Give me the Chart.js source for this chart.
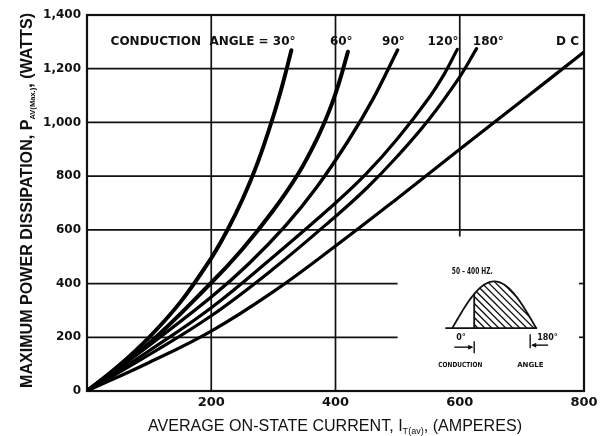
<!DOCTYPE html>
<html><head><meta charset="utf-8">
<script src="https://cdn.jsdelivr.net/npm/chart.js@4.4.1/dist/chart.umd.min.js"></script>
<style>html,body{margin:0;padding:0;background:#fff}</style>
</head><body>
<canvas id="c" width="605" height="436"></canvas>
<script>
// ---- data ----
const xTickValues = [0, 200, 400, 600, 800];
const yTickValues = [0, 200, 400, 600, 800, 1000, 1200, 1400];
const seriesLabels = ['30°', '60°', '90°', '120°', '180°', 'DC'];

const current30 = [0, 50, 100, 150, 200, 225, 250, 275, 300, 315, 329];
const power30   = [0, 92, 200, 330, 495, 595, 712, 852, 1024, 1143, 1269];

const current60 = [0, 100, 200, 250, 300, 340, 370, 390, 405, 420];
const power60   = [0, 178, 403, 528, 673, 809, 938, 1044, 1143, 1263];

const current90 = [0, 100, 200, 260, 320, 370, 420, 460, 500];
const power90   = [0, 170, 350, 473, 617, 760, 930, 1086, 1270];

const current120 = [0, 100, 200, 300, 400, 450, 500, 550, 575, 596];
const power120   = [0, 150, 310, 500, 700, 810, 940, 1090, 1180, 1272];

const current180 = [0, 100, 200, 300, 400, 450, 500, 550, 600, 627];
const power180   = [0, 135, 280, 455, 650, 755, 875, 1010, 1170, 1275];

const currentDC = [0, 100, 200, 300, 400, 500, 600, 700, 800];
const powerDC   = [0, 106, 223, 370, 540, 718, 900, 1081, 1262];

const seriesX = [current30, current60, current90, current120, current180, currentDC];
const seriesY = [power30, power60, power90, power120, power180, powerDC];
const seriesWidth = [4, 4, 3.4, 3.2, 3.2, 3.2];

const pts = (xs, ys) => xs.map((v, i) => ({ x: v, y: ys[i] }));

const datasets = seriesLabels.map((lab, i) => ({
  label: lab,
  data: pts(seriesX[i], seriesY[i]),
  borderColor: '#000',
  borderWidth: seriesWidth[i],
  borderCapStyle: 'round',
  pointRadius: 0,
  tension: 0.4,
  fill: false
}));

const INK = '#111';

const gridPlugin = {
  id: 'paperGrid',
  beforeDatasetsDraw(chart) {
    const { ctx, chartArea: a, scales: { x, y } } = chart;
    ctx.save();
    ctx.strokeStyle = INK;
    ctx.lineWidth = 1.7;
    const hl = (v, x0, x1) => {
      const py = y.getPixelForValue(v);
      ctx.beginPath(); ctx.moveTo(x.getPixelForValue(x0), py); ctx.lineTo(x.getPixelForValue(x1), py); ctx.stroke();
    };
    const vl = (v, y0, y1) => {
      const px = x.getPixelForValue(v);
      ctx.beginPath(); ctx.moveTo(px, y.getPixelForValue(y0)); ctx.lineTo(px, y.getPixelForValue(y1)); ctx.stroke();
    };
    hl(200, 0, 500); hl(400, 0, 500);
    hl(600, 0, 800); hl(800, 0, 800); hl(1000, 0, 800); hl(1200, 0, 800);
    vl(200, 0, 1400); vl(400, 0, 1400); vl(600, 575, 1400);
    [200, 400].forEach(v => {
      const py = y.getPixelForValue(v);
      ctx.beginPath(); ctx.moveTo(a.right, py); ctx.lineTo(a.right - 5, py); ctx.stroke();
    });
    ctx.lineWidth = 2.2;
    ctx.strokeRect(a.left, a.top, a.right - a.left, a.bottom - a.top);
    ctx.restore();
  },
  afterDatasetsDraw(chart) {
    const { ctx, scales: { x, y } } = chart;
    ctx.save();
    ctx.fillStyle = INK;
    ctx.textBaseline = 'alphabetic';
    ctx.textAlign = 'left';
    ctx.font = 'bold 12px "DejaVu Sans"';
    const by = y.getPixelForValue(1288);
    ctx.fillText('CONDUCTION  ANGLE = 30°', x.getPixelForValue(38), by);
    ctx.fillText('60°', x.getPixelForValue(391), by);
    ctx.fillText('90°', x.getPixelForValue(475), by);
    ctx.fillText('120°', x.getPixelForValue(548), by);
    ctx.fillText('180°', x.getPixelForValue(621), by);
    ctx.fillText('D C', x.getPixelForValue(755), by);

    // ---- inset waveform ----
    const x0 = x.getPixelForValue(588), x1 = x.getPixelForValue(723);
    const yb = y.getPixelForValue(234), yp = y.getPixelForValue(408);
    const amp = yb - yp;
    const px = t => x0 + (x1 - x0) * t / 180;
    const py = t => yb - amp * Math.sin(t * Math.PI / 180);
    const start = 47;
    ctx.save();
    ctx.beginPath();
    ctx.moveTo(px(start), yb);
    for (let t = start; t <= 180; t += 2) ctx.lineTo(px(t), py(t));
    ctx.lineTo(px(180), yb);
    ctx.closePath();
    ctx.clip();
    ctx.strokeStyle = INK; ctx.lineWidth = 1.3;
    for (let k = -80; k < 120; k += 7) {
      ctx.beginPath();
      ctx.moveTo(px(start) + k, yp - 2);
      ctx.lineTo(px(start) + k + (yb - yp + 4), yb + 2);
      ctx.stroke();
    }
    ctx.restore();
    ctx.strokeStyle = INK; ctx.lineWidth = 1.8;
    ctx.beginPath();
    for (let t = 0; t <= 180; t += 2) { t === 0 ? ctx.moveTo(px(t), py(t)) : ctx.lineTo(px(t), py(t)); }
    ctx.stroke();
    ctx.beginPath(); ctx.moveTo(x0 - 7, yb); ctx.lineTo(x1 + 1, yb); ctx.stroke();
    ctx.beginPath(); ctx.moveTo(px(start), yb); ctx.lineTo(px(start), py(start)); ctx.stroke();

    ctx.font = 'bold 8px "DejaVu Sans"';
    ctx.textAlign = 'center';
    ctx.fillText('50 – 400 HZ.', x0 + 20, yp - 7, 41);
    ctx.textAlign = 'left';
    ctx.fillText('0°', x0 + 4, yb + 12);
    ctx.fillText('180°', x1 + 1, yb + 12);
    ctx.lineWidth = 1.4;
    const ay1 = yb + 19, ay2 = yb + 17;
    const bx1 = px(start), bx2 = x1 - 6;
    ctx.beginPath(); ctx.moveTo(bx1, ay1 - 6); ctx.lineTo(bx1, ay1 + 6); ctx.stroke();
    ctx.beginPath(); ctx.moveTo(x0 + 2, ay1); ctx.lineTo(bx1 - 2, ay1); ctx.stroke();
    ctx.beginPath(); ctx.moveTo(bx1 - 1, ay1); ctx.lineTo(bx1 - 6, ay1 - 2.5); ctx.lineTo(bx1 - 6, ay1 + 2.5); ctx.closePath(); ctx.fill();
    ctx.beginPath(); ctx.moveTo(bx2, ay2 - 11); ctx.lineTo(bx2, ay2 + 3); ctx.stroke();
    ctx.beginPath(); ctx.moveTo(bx2 + 2, ay2); ctx.lineTo(bx2 + 18, ay2); ctx.stroke();
    ctx.beginPath(); ctx.moveTo(bx2 + 1, ay2); ctx.lineTo(bx2 + 6, ay2 - 2.5); ctx.lineTo(bx2 + 6, ay2 + 2.5); ctx.closePath(); ctx.fill();
    ctx.font = 'bold 7px "DejaVu Sans"';
    ctx.fillText('CONDUCTION', x0 - 14, yb + 39, 44);
    ctx.fillText('ANGLE', x1 - 19, yb + 39, 37);
    ctx.restore();
  },
  afterDraw(chart) {
    const { ctx } = chart;
    ctx.save();
    ctx.fillStyle = INK;
    ctx.textBaseline = 'alphabetic';
    ctx.textAlign = 'left';
    const drawParts = (parts, mainFont, subFont, targetW) => {
      let w = 0;
      parts.forEach(p => { ctx.font = p.sub ? subFont : mainFont; w += ctx.measureText(p.t).width; });
      const s = targetW / w;
      ctx.scale(s, 1);
      let cx = 0;
      parts.forEach(p => {
        ctx.font = p.sub ? subFont : mainFont;
        ctx.fillText(p.t, cx, p.sub ? 3 : 0);
        cx += ctx.measureText(p.t).width;
      });
    };
    ctx.save();
    ctx.translate(148, 431);
    drawParts([{ t: 'AVERAGE ON-STATE CURRENT, I' }, { t: 'T(av)', sub: true }, { t: ', (AMPERES)' }],
      '16px "Liberation Sans"', '9px "Liberation Sans"', 374);
    ctx.restore();
    ctx.save();
    ctx.translate(31.5, 388);
    ctx.rotate(-Math.PI / 2);
    drawParts([{ t: 'MAXIMUM POWER DISSIPATION, P' }, { t: 'AV(Max.)', sub: true }, { t: ', (WATTS)' }],
      'bold 17px "Liberation Sans"', 'bold 8px "Liberation Sans"', 375);
    ctx.restore();
    ctx.restore();
  }
};

new Chart(document.getElementById('c'), {
  type: 'line',
  data: { datasets },
  options: {
    responsive: false,
    animation: false,
    events: [],
    layout: { padding: { top: 15, right: 21, left: 0, bottom: 0 } },
    plugins: { legend: { display: false }, tooltip: { enabled: false }, title: { display: false } },
    scales: {
      x: {
        type: 'linear', min: 0, max: 800,
        afterBuildTicks: s => { s.ticks = xTickValues.map(v => ({ value: v })); },
        afterFit: s => { s.height = 45; },
        grid: { display: false, drawTicks: false },
        border: { display: false },
        ticks: {
          padding: 4, color: INK, maxRotation: 0, autoSkip: false,
          font: { family: 'DejaVu Sans', size: 13, weight: 'bold' },
          callback: v => (v === 0 ? '' : String(v))
        }
      },
      y: {
        type: 'linear', min: 0, max: 1400,
        afterBuildTicks: s => { s.ticks = yTickValues.map(v => ({ value: v })); },
        afterFit: s => { s.width = 87; },
        grid: { display: false, drawTicks: false },
        border: { display: false },
        ticks: {
          padding: 6, color: INK, autoSkip: false,
          font: { family: 'DejaVu Sans', size: 12, weight: 'bold' },
          callback: v => Number(v).toLocaleString('en-US')
        }
      }
    }
  },
  plugins: [gridPlugin]
});
</script>
</body></html>
